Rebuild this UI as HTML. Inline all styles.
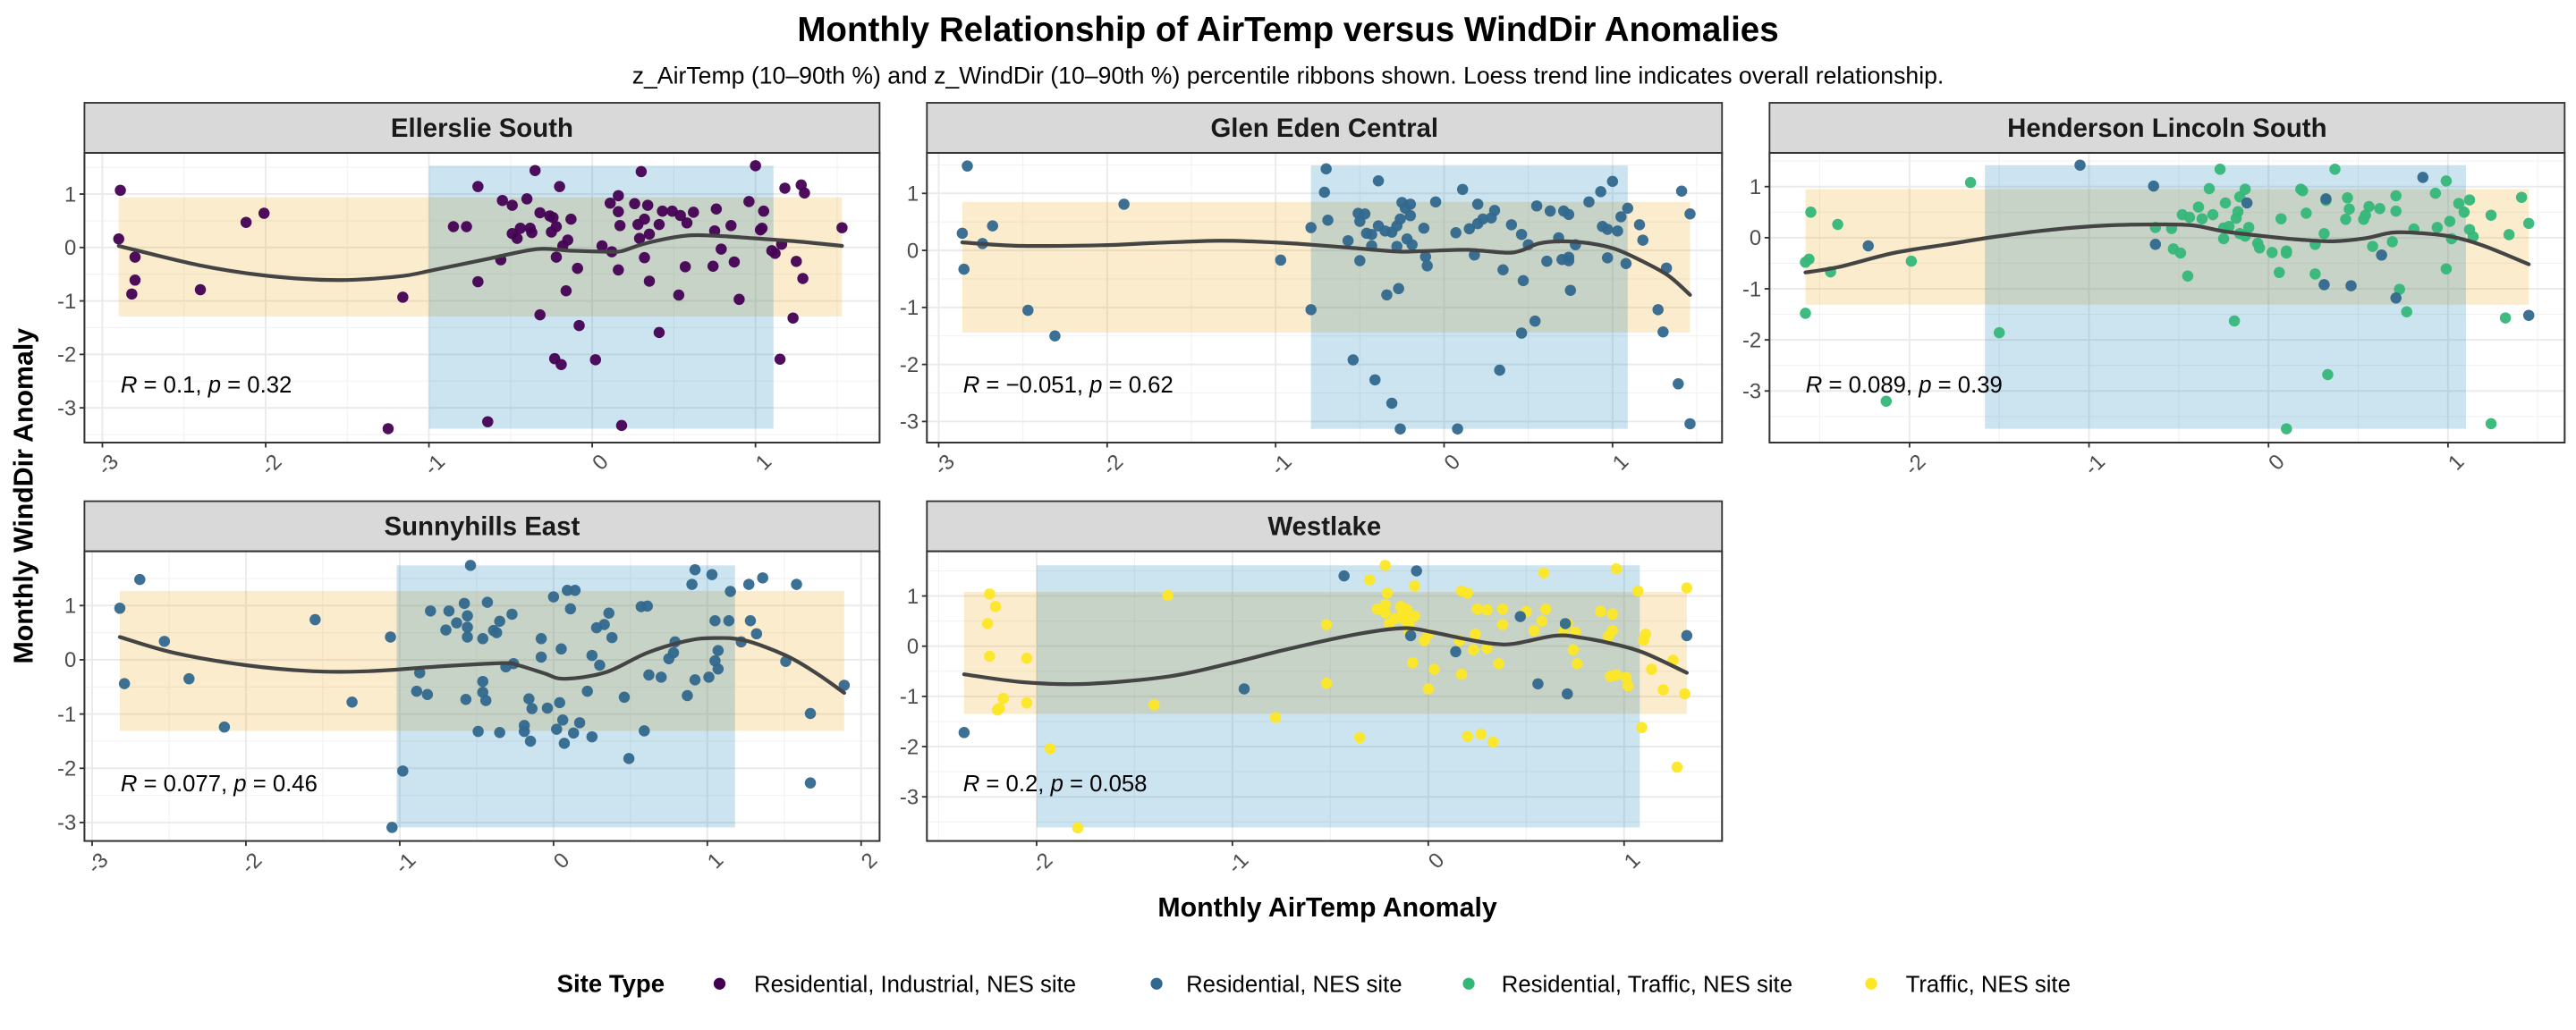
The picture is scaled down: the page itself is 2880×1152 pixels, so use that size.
<!DOCTYPE html>
<html><head><meta charset="utf-8">
<style>
html,body{margin:0;padding:0;background:#fff;}
svg{display:block;font-family:"Liberation Sans",Arial,sans-serif;}
</style></head>
<body>
<svg id="chart" width="2880" height="1152" viewBox="0 0 1568 627.2" xmlns="http://www.w3.org/2000/svg">
<rect x="0" y="0" width="1568" height="627.2" fill="#fff"/>
<text x="784" y="25" text-anchor="middle" font-size="21" font-weight="bold" fill="#000">Monthly Relationship of AirTemp versus WindDir Anomalies</text>
<text x="784" y="51" text-anchor="middle" font-size="14.5" fill="#000">z_AirTemp (10–90th %) and z_WindDir (10–90th %) percentile ribbons shown. Loess trend line indicates overall relationship.</text>
<text transform="translate(20,302) rotate(-90)" text-anchor="middle" font-size="16.5" font-weight="bold" fill="#000">Monthly WindDir Anomaly</text>
<text x="808" y="558" text-anchor="middle" font-size="16.5" font-weight="bold" fill="#000">Monthly AirTemp Anomaly</text>
<g id="panels"></g>
<g>
<text x="339" y="604" font-size="15" font-weight="bold" fill="#000">Site Type</text>
<g><circle cx="438" cy="599" r="3.6" fill="#440154"/><text x="459" y="604" font-size="14" fill="#000">Residential, Industrial, NES site</text></g>
<g><circle cx="704" cy="599" r="3.6" fill="#31688e"/><text x="722" y="604" font-size="14" fill="#000">Residential, NES site</text></g>
<g><circle cx="894" cy="599" r="3.6" fill="#35b779"/><text x="914" y="604" font-size="14" fill="#000">Residential, Traffic, NES site</text></g>
<g><circle cx="1139" cy="599" r="3.6" fill="#fde725"/><text x="1160" y="604" font-size="14" fill="#000">Traffic, NES site</text></g>
</g>
</svg>
<script>
// ---- data ----
const panelNames = ["Ellerslie South","Glen Eden Central","Henderson Lincoln South","Sunnyhills East","Westlake"];
const statLabels = [["0.1","0.32"],["\u22120.051","0.62"],["0.089","0.39"],["0.077","0.46"],["0.2","0.058"]];
const xTicks = [[-3,-2,-1,0,1],[-3,-2,-1,0,1],[-2,-1,0,1],[-3,-2,-1,0,1,2],[-2,-1,0,1]];
const yTicks = [[-3,-2,-1,0,1],[-3,-2,-1,0,1],[-3,-2,-1,0,1],[-3,-2,-1,0,1],[-3,-2,-1,0,1]];
const xDomains = [[-3.11,1.76],[-3.07,1.65],[-2.78,1.65],[-3.05,2.12],[-2.56,1.50]];
const yDomains = [[-3.65,1.77],[-3.37,1.71],[-4.01,1.66],[-3.34,2.0],[-3.88,1.89]];
// ribbons: [xmin,xmax,ymin,ymax]
const windRibbons = [[-2.90,1.53,-1.29,0.94],[-2.86,1.46,-1.44,0.85],[-2.58,1.45,-1.31,0.95],[-2.82,1.89,-1.31,1.27],[-2.37,1.32,-1.35,1.08]];
const tempRibbons = [[-1.00,1.11,-3.39,1.53],[-0.79,1.09,-3.13,1.49],[-1.58,1.10,-3.74,1.42],[-1.02,1.18,-3.09,1.74],[-2.00,1.08,-3.61,1.61]];

const ellerslieSouthPoints = [[-2.89,1.07],[-2.90,0.16],[-2.80,-0.18],[-2.80,-0.61],[-2.82,-0.87],[-2.40,-0.79],[-2.12,0.47],[-2.01,0.64],[-1.25,-3.39],[-1.16,-0.93],[-0.85,0.39],[-0.77,0.39],[-0.70,1.14],[-0.70,-0.64],[-0.64,-3.26],[-0.56,-0.23],[-0.55,0.88],[-0.49,0.79],[-0.49,0.26],[-0.46,0.17],[-0.44,0.36],[-0.40,0.91],[-0.38,0.36],[-0.37,0.28],[-0.35,1.44],[-0.32,0.65],[-0.32,-1.26],[-0.26,0.59],[-0.25,0.29],[-0.24,0.56],[-0.23,-2.08],[-0.22,0.39],[-0.22,-0.18],[-0.20,1.14],[-0.19,-2.19],[-0.18,0.03],[-0.16,-0.81],[-0.15,0.14],[-0.13,0.53],[-0.09,-0.39],[-0.08,-1.46],[0.02,-2.1],[0.06,0.03],[0.11,0.83],[0.12,-0.08],[0.16,0.97],[0.16,0.67],[0.16,-0.42],[0.17,0.41],[0.18,-3.33],[0.26,0.82],[0.28,0.43],[0.29,0.17],[0.30,1.42],[0.32,0.53],[0.32,-0.19],[0.34,0.79],[0.35,0.25],[0.35,-0.63],[0.41,0.43],[0.41,-1.59],[0.43,0.68],[0.49,0.68],[0.53,-0.89],[0.54,0.6],[0.57,-0.36],[0.58,0.46],[0.62,0.66],[0.74,-0.35],[0.75,0.31],[0.76,0.72],[0.79,-0.03],[0.85,0.41],[0.87,-0.27],[0.90,-0.97],[0.96,0.86],[1.00,1.53],[1.03,0.33],[1.04,0.36],[1.05,0.68],[1.10,-0.06],[1.12,-0.11],[1.15,-2.09],[1.16,0.06],[1.18,1.11],[1.23,-1.32],[1.25,-0.26],[1.28,1.17],[1.29,-0.58],[1.30,1.02],[1.53,0.37]];
const glenEdenPoints = [[-2.83,1.48],[-2.86,0.30],[-2.85,-0.33],[-2.74,0.12],[-2.68,0.43],[-2.47,-1.05],[-2.31,-1.50],[-1.90,0.81],[-0.97,-0.17],[-0.79,0.40],[-0.79,-1.04],[-0.71,1.02],[-0.70,1.43],[-0.69,0.53],[-0.57,0.17],[-0.54,-1.92],[-0.51,0.65],[-0.50,-0.18],[-0.50,0.51],[-0.47,0.64],[-0.46,0.30],[-0.43,0.28],[-0.43,0.08],[-0.41,-2.27],[-0.39,0.43],[-0.39,1.22],[-0.35,0.34],[-0.34,-0.78],[-0.31,0.32],[-0.31,-2.68],[-0.28,0.07],[-0.28,0.43],[-0.27,-0.67],[-0.26,0.55],[-0.26,-3.13],[-0.25,0.84],[-0.23,0.74],[-0.22,0.20],[-0.20,0.61],[-0.20,0.81],[-0.19,0.10],[-0.12,0.39],[-0.11,-0.11],[-0.10,-0.27],[-0.05,0.85],[0.07,0.31],[0.08,-3.13],[0.11,1.07],[0.15,0.38],[0.18,-0.08],[0.20,0.81],[0.20,0.47],[0.23,0.55],[0.28,0.57],[0.30,0.70],[0.33,-2.10],[0.35,-0.34],[0.40,0.45],[0.46,0.28],[0.46,-1.45],[0.47,-0.53],[0.50,0.10],[0.54,-1.24],[0.55,0.78],[0.61,-0.19],[0.63,0.69],[0.68,0.22],[0.70,-0.16],[0.71,0.69],[0.74,-0.12],[0.74,0.63],[0.74,-0.18],[0.75,-0.70],[0.78,0.10],[0.86,0.85],[0.93,1.03],[0.94,0.42],[0.97,-0.13],[0.97,0.37],[1.00,1.21],[1.03,0.34],[1.05,0.59],[1.08,-0.23],[1.09,0.74],[1.16,0.45],[1.18,0.18],[1.27,-1.04],[1.30,-1.43],[1.32,-0.31],[1.39,-2.34],[1.41,1.04],[1.46,0.64],[1.46,-3.04]];
const hendersonTrafficPoints = [[-2.58,-0.48],[-2.56,-0.42],[-2.55,0.50],[-2.58,-1.48],[-2.44,-0.67],[-2.40,0.26],[-2.13,-3.20],[-1.99,-0.46],[-1.66,1.08],[-1.50,-1.86],[-0.63,0.20],[-0.54,0.18],[-0.53,-0.22],[-0.49,-0.30],[-0.48,0.45],[-0.45,-0.75],[-0.44,0.40],[-0.39,0.60],[-0.37,0.37],[-0.33,0.96],[-0.31,0.45],[-0.27,1.34],[-0.25,0.19],[-0.25,-0.02],[-0.24,0.68],[-0.22,0.22],[-0.19,-1.63],[-0.18,0.38],[-0.17,0.51],[-0.16,0.80],[-0.16,0.08],[-0.13,0.95],[-0.13,0.03],[-0.11,0.20],[-0.06,-0.11],[-0.05,-0.20],[0.02,-0.29],[0.06,-0.68],[0.07,0.37],[0.10,-0.26],[0.10,-0.30],[0.10,-3.74],[0.18,0.95],[0.19,0.92],[0.21,0.48],[0.26,-0.13],[0.26,-0.71],[0.31,0.08],[0.32,0.73],[0.33,-2.68],[0.37,1.34],[0.43,0.36],[0.44,0.78],[0.45,0.56],[0.53,0.36],[0.54,0.44],[0.56,0.61],[0.58,-0.17],[0.62,0.57],[0.69,-0.08],[0.71,0.82],[0.71,0.52],[0.73,-1.01],[0.77,-1.45],[0.81,0.17],[0.93,0.87],[0.94,0.20],[0.99,1.11],[0.99,-0.61],[1.01,0.32],[1.02,-0.02],[1.06,0.67],[1.09,0.50],[1.12,0.74],[1.12,0.16],[1.14,0.02],[1.24,-3.64],[1.24,0.44],[1.32,-1.57],[1.34,0.06],[1.41,0.79],[1.45,0.28]];
const hendersonResidentialPoints = [[-2.23,-0.16],[-1.05,1.42],[-0.64,1.01],[-0.63,-0.13],[-0.12,0.68],[0.31,-0.92],[0.32,0.76],[0.46,-0.94],[0.63,-0.34],[0.71,-1.18],[0.86,1.18],[1.45,-1.52]];
const sunnyhillsPoints = [[-2.82,0.95],[-2.79,-0.44],[-2.69,1.48],[-2.53,0.34],[-2.37,-0.35],[-2.14,-1.24],[-1.55,0.74],[-1.31,-0.78],[-1.06,0.42],[-1.05,-3.09],[-0.98,-2.05],[-0.89,-0.58],[-0.87,-0.24],[-0.82,-0.64],[-0.80,0.90],[-0.70,0.55],[-0.68,0.90],[-0.63,0.68],[-0.58,1.04],[-0.57,-0.73],[-0.56,0.81],[-0.56,0.60],[-0.56,0.42],[-0.54,1.74],[-0.49,-1.32],[-0.46,-0.40],[-0.46,-0.60],[-0.46,0.39],[-0.44,-0.75],[-0.43,1.06],[-0.39,0.54],[-0.37,0.50],[-0.35,0.71],[-0.35,-1.34],[-0.31,-0.13],[-0.27,0.84],[-0.26,-0.07],[-0.19,-1.32],[-0.19,-1.21],[-0.16,-0.72],[-0.15,-1.50],[-0.14,-0.90],[-0.08,0.05],[-0.08,0.39],[-0.04,-0.89],[0.00,1.16],[0.02,-1.28],[0.04,-0.79],[0.05,0.20],[0.06,-1.11],[0.07,-1.54],[0.09,1.28],[0.11,0.94],[0.13,-1.35],[0.14,1.28],[0.17,-1.16],[0.22,-0.58],[0.25,-1.42],[0.25,0.08],[0.28,0.59],[0.30,-0.10],[0.33,0.65],[0.36,0.86],[0.38,0.41],[0.46,-0.69],[0.49,-1.82],[0.57,0.98],[0.59,-1.31],[0.61,0.99],[0.62,-0.28],[0.70,-0.32],[0.75,0.02],[0.78,0.13],[0.79,0.33],[0.87,-0.66],[0.90,1.39],[0.92,1.66],[0.92,-0.37],[1.01,-0.32],[1.03,1.57],[1.05,0.72],[1.05,-0.02],[1.07,-0.17],[1.07,0.17],[1.14,0.72],[1.15,1.26],[1.22,0.33],[1.27,1.39],[1.28,0.72],[1.32,0.48],[1.36,1.51],[1.51,-0.03],[1.58,1.39],[1.67,-0.99],[1.67,-2.27],[1.89,-0.47]];
const westlakeTrafficPoints = [[-2.24,1.04],[-2.21,0.79],[-2.25,0.45],[-2.24,-0.20],[-2.05,-0.24],[-2.17,-1.04],[-2.19,-1.24],[-2.20,-1.27],[-2.05,-1.13],[-1.93,-2.04],[-1.79,-3.62],[-1.33,1.01],[-1.40,-1.17],[-0.78,-1.42],[-0.52,0.43],[-0.52,-0.74],[-0.35,-1.82],[-0.30,1.32],[-0.26,0.74],[-0.22,1.61],[-0.22,0.82],[-0.22,0.67],[-0.21,1.06],[-0.20,0.45],[-0.17,0.55],[-0.14,0.79],[-0.13,0.64],[-0.12,0.53],[-0.11,0.73],[-0.10,0.31],[-0.10,0.45],[-0.08,-0.33],[-0.07,0.60],[-0.07,1.20],[-0.02,0.11],[0.00,-0.85],[0.00,0.24],[0.03,-0.46],[0.16,0.11],[0.17,1.10],[0.17,-0.56],[0.20,1.06],[0.20,-1.80],[0.23,-0.07],[0.24,0.24],[0.25,0.74],[0.27,-1.75],[0.30,0.72],[0.30,-0.04],[0.33,-1.91],[0.36,-0.35],[0.38,0.74],[0.38,0.43],[0.50,0.69],[0.54,0.31],[0.58,0.50],[0.59,1.46],[0.60,0.74],[0.69,0.28],[0.71,0.45],[0.74,-0.07],[0.75,0.28],[0.76,-0.35],[0.88,0.69],[0.92,0.20],[0.93,-0.60],[0.94,0.31],[0.94,0.64],[0.96,1.54],[0.96,-0.57],[1.01,-0.62],[1.02,-0.79],[1.07,1.10],[1.09,-1.62],[1.10,0.12],[1.11,0.24],[1.14,-0.46],[1.20,-0.87],[1.25,-0.28],[1.27,-2.41],[1.31,-0.95],[1.32,1.16]];
const westlakeResidentialPoints = [[-2.37,-1.72],[-0.94,-0.85],[-0.43,1.40],[-0.09,0.21],[-0.06,1.50],[0.14,-0.11],[0.47,0.59],[0.56,-0.75],[0.70,0.45],[0.71,-0.95],[1.32,0.21]];

const loessEllerslie = [[-2.90,0.03],[-2.41,-0.33],[-1.99,-0.53],[-1.56,-0.61],[-1.18,-0.54],[-0.97,-0.42],[-0.65,-0.22],[-0.34,-0.03],[-0.13,-0.06],[0.12,-0.08],[0.19,-0.06],[0.33,0.08],[0.57,0.22],[0.75,0.22],[1.00,0.17],[1.27,0.11],[1.53,0.03]];
const loessGlenEden = [[-2.86,0.14],[-2.52,0.08],[-2.04,0.09],[-1.72,0.13],[-1.33,0.17],[-1.01,0.14],[-0.79,0.10],[-0.53,0.04],[-0.27,-0.02],[-0.11,-0.01],[0.14,0.01],[0.37,-0.04],[0.46,0.0],[0.56,0.12],[0.69,0.16],[0.85,0.13],[1.01,0.03],[1.17,-0.18],[1.33,-0.44],[1.46,-0.78]];
const loessHenderson = [[-2.58,-0.68],[-2.39,-0.57],[-2.09,-0.30],[-1.79,-0.13],[-1.50,0.03],[-1.20,0.16],[-0.90,0.24],[-0.60,0.26],[-0.42,0.24],[-0.24,0.12],[0,0.02],[0.18,-0.04],[0.36,-0.07],[0.54,-0.01],[0.69,0.10],[0.84,0.09],[1.02,0.02],[1.20,-0.16],[1.45,-0.52]];
const loessSunnyhills = [[-2.82,0.42],[-2.47,0.13],[-2.00,-0.10],[-1.57,-0.21],[-1.20,-0.21],[-0.73,-0.12],[-0.33,-0.06],[-0.23,-0.10],[-0.06,-0.25],[0.07,-0.35],[0.34,-0.23],[0.61,0.13],[0.87,0.35],[1.04,0.40],[1.24,0.36],[1.51,0.08],[1.71,-0.25],[1.89,-0.61]];
const loessWestlake = [[-2.37,-0.56],[-2.06,-0.72],[-1.74,-0.75],[-1.32,-0.60],[-1.01,-0.34],[-0.74,-0.08],[-0.48,0.15],[-0.27,0.30],[-0.11,0.36],[0.02,0.28],[0.18,0.15],[0.33,0.05],[0.44,0.05],[0.65,0.21],[0.78,0.17],[0.94,0.05],[1.10,-0.13],[1.32,-0.53]];

// ---- layout ----
const NS = "http://www.w3.org/2000/svg";
const colLeft = [51.4, 564.2, 1077.1];
const rowTop = [93.1, 335.7];
const PW = 484, PH = 176.4, STRIP = 30.5;
const pointSets = [
  [[ellerslieSouthPoints,"#440154"]],
  [[glenEdenPoints,"#31688e"]],
  [[hendersonTrafficPoints,"#35b779"],[hendersonResidentialPoints,"#31688e"]],
  [[sunnyhillsPoints,"#31688e"]],
  [[westlakeTrafficPoints,"#fde725"],[westlakeResidentialPoints,"#31688e"]]
];
const loessSets = [loessEllerslie, loessGlenEden, loessHenderson, loessSunnyhills, loessWestlake];
const slugs = ["ellerslie-south","glen-eden-central","henderson-lincoln-south","sunnyhills-east","westlake"];

function mk(tag, attrs, parent){
  const e = document.createElementNS(NS, tag);
  for (const k in attrs) e.setAttribute(k, attrs[k]);
  parent.appendChild(e);
  return e;
}
function smoothPath(pts){
  let d = "M" + pts[0][0].toFixed(2) + "," + pts[0][1].toFixed(2);
  for (let k = 0; k < pts.length - 1; k++) {
    const p0 = pts[Math.max(0, k - 1)], p1 = pts[k], p2 = pts[k + 1], p3 = pts[Math.min(pts.length - 1, k + 2)];
    const c1x = p1[0] + (p2[0] - p0[0]) / 6, c1y = p1[1] + (p2[1] - p0[1]) / 6;
    const c2x = p2[0] - (p3[0] - p1[0]) / 6, c2y = p2[1] - (p3[1] - p1[1]) / 6;
    d += " C" + c1x.toFixed(2) + "," + c1y.toFixed(2) + " " + c2x.toFixed(2) + "," + c2y.toFixed(2) + " " + p2[0].toFixed(2) + "," + p2[1].toFixed(2);
  }
  return d;
}
const root = document.getElementById("panels");

panelNames.forEach((name, i) => {
  const L = colLeft[i % 3], T = rowTop[Math.floor(i / 3)];
  const [x0, x1] = xDomains[i], [y0, y1] = yDomains[i];
  const sx = v => L + (v - x0) / (x1 - x0) * PW;
  const sy = v => T + PH - (v - y0) / (y1 - y0) * PH;
  const g = mk("g", {}, root);
  
  

  const strip = mk("rect", {x: L, y: T - STRIP, width: PW, height: STRIP, fill: "#d9d9d9", stroke: "#333", "stroke-width": 1}, g);
  
  
  const st = mk("text", {x: L + PW / 2, y: T - STRIP / 2 + 5.5, "text-anchor": "middle", "font-size": 16, "font-weight": "bold", fill: "#1a1a1a"}, g);
  st.textContent = name;
  
  

  const cp = mk("clipPath", {id: "clip" + i}, g);
  mk("rect", {x: L, y: T, width: PW, height: PH}, cp);
  const inner = mk("g", {"clip-path": "url(#clip" + i + ")"}, g);

  for (let v = Math.ceil(x0 * 2) / 2; v <= x1; v += 0.5) {
    if (Math.abs(v - Math.round(v)) < 1e-6) continue;
    const ln = mk("line", {x1: sx(v), x2: sx(v), y1: T, y2: T + PH, stroke: "#f2f2f2", "stroke-width": 0.6}, inner);
    
    
  }
  for (let v = Math.ceil(y0 * 2) / 2; v <= y1; v += 0.5) {
    if (Math.abs(v - Math.round(v)) < 1e-6) continue;
    const ln = mk("line", {x1: L, x2: L + PW, y1: sy(v), y2: sy(v), stroke: "#f2f2f2", "stroke-width": 0.6}, inner);
    
    
  }
  xTicks[i].forEach(v => {
    const ln = mk("line", {x1: sx(v), x2: sx(v), y1: T, y2: T + PH, stroke: "#ebebeb", "stroke-width": 1.1}, inner);
    
    
  });
  yTicks[i].forEach(v => {
    const ln = mk("line", {x1: L, x2: L + PW, y1: sy(v), y2: sy(v), stroke: "#ebebeb", "stroke-width": 1.1}, inner);
    
    
  });

  const wr = windRibbons[i];
  const r1 = mk("rect", {x: sx(wr[0]), y: sy(wr[3]), width: sx(wr[1]) - sx(wr[0]), height: sy(wr[2]) - sy(wr[3]), fill: "#e69f00", "fill-opacity": 0.2}, inner);
  
  
  const tr = tempRibbons[i];
  const r2 = mk("rect", {x: sx(tr[0]), y: sy(tr[3]), width: sx(tr[1]) - sx(tr[0]), height: sy(tr[2]) - sy(tr[3]), fill: "#0072b2", "fill-opacity": 0.2}, inner);
  
  

  pointSets[i].forEach(([pts, col]) => {
    pts.forEach(p => {
      const c = mk("circle", {cx: sx(p[0]), cy: sy(p[1]), r: 3.4, fill: col, "fill-opacity": 0.95}, inner);
      
      
    });
  });

  const screenPts = loessSets[i].map(p => [sx(p[0]), sy(p[1])]);
  const path = mk("path", {d: smoothPath(screenPts), fill: "none", stroke: "#444", "stroke-width": 2.3, "stroke-linejoin": "round", "stroke-linecap": "round"}, inner);
  
  

  const lbl = mk("text", {x: L + 22, y: T + 146, "font-size": 14, fill: "#000"}, g);
  lbl.innerHTML = '<tspan font-style="italic">R</tspan> = ' + statLabels[i][0] + ', <tspan font-style="italic">p</tspan> = ' + statLabels[i][1];
  
  

  const b = mk("rect", {x: L, y: T, width: PW, height: PH, fill: "none", stroke: "#333", "stroke-width": 1.1}, g);
  
  

  yTicks[i].forEach(v => {
    const tk = mk("line", {x1: L - 3, x2: L, y1: sy(v), y2: sy(v), stroke: "#333", "stroke-width": 1}, g);
    
    
    const t = mk("text", {x: L - 5, y: sy(v) + 4.5, "text-anchor": "end", "font-size": 13, fill: "#4d4d4d"}, g);
    t.textContent = v;
    
    
  });
  xTicks[i].forEach(v => {
    const tk = mk("line", {x1: sx(v), x2: sx(v), y1: T + PH, y2: T + PH + 3, stroke: "#333", "stroke-width": 1}, g);
    
    
    const ax = sx(v) + 4, ay = T + PH + 6;
    const t = mk("text", {x: ax, y: ay, "text-anchor": "end", "font-size": 13, fill: "#4d4d4d", "dominant-baseline": "hanging", transform: "rotate(-45 " + ax + " " + ay + ")"}, g);
    t.textContent = v;
    
    
  });
});
</script>
</body></html>
